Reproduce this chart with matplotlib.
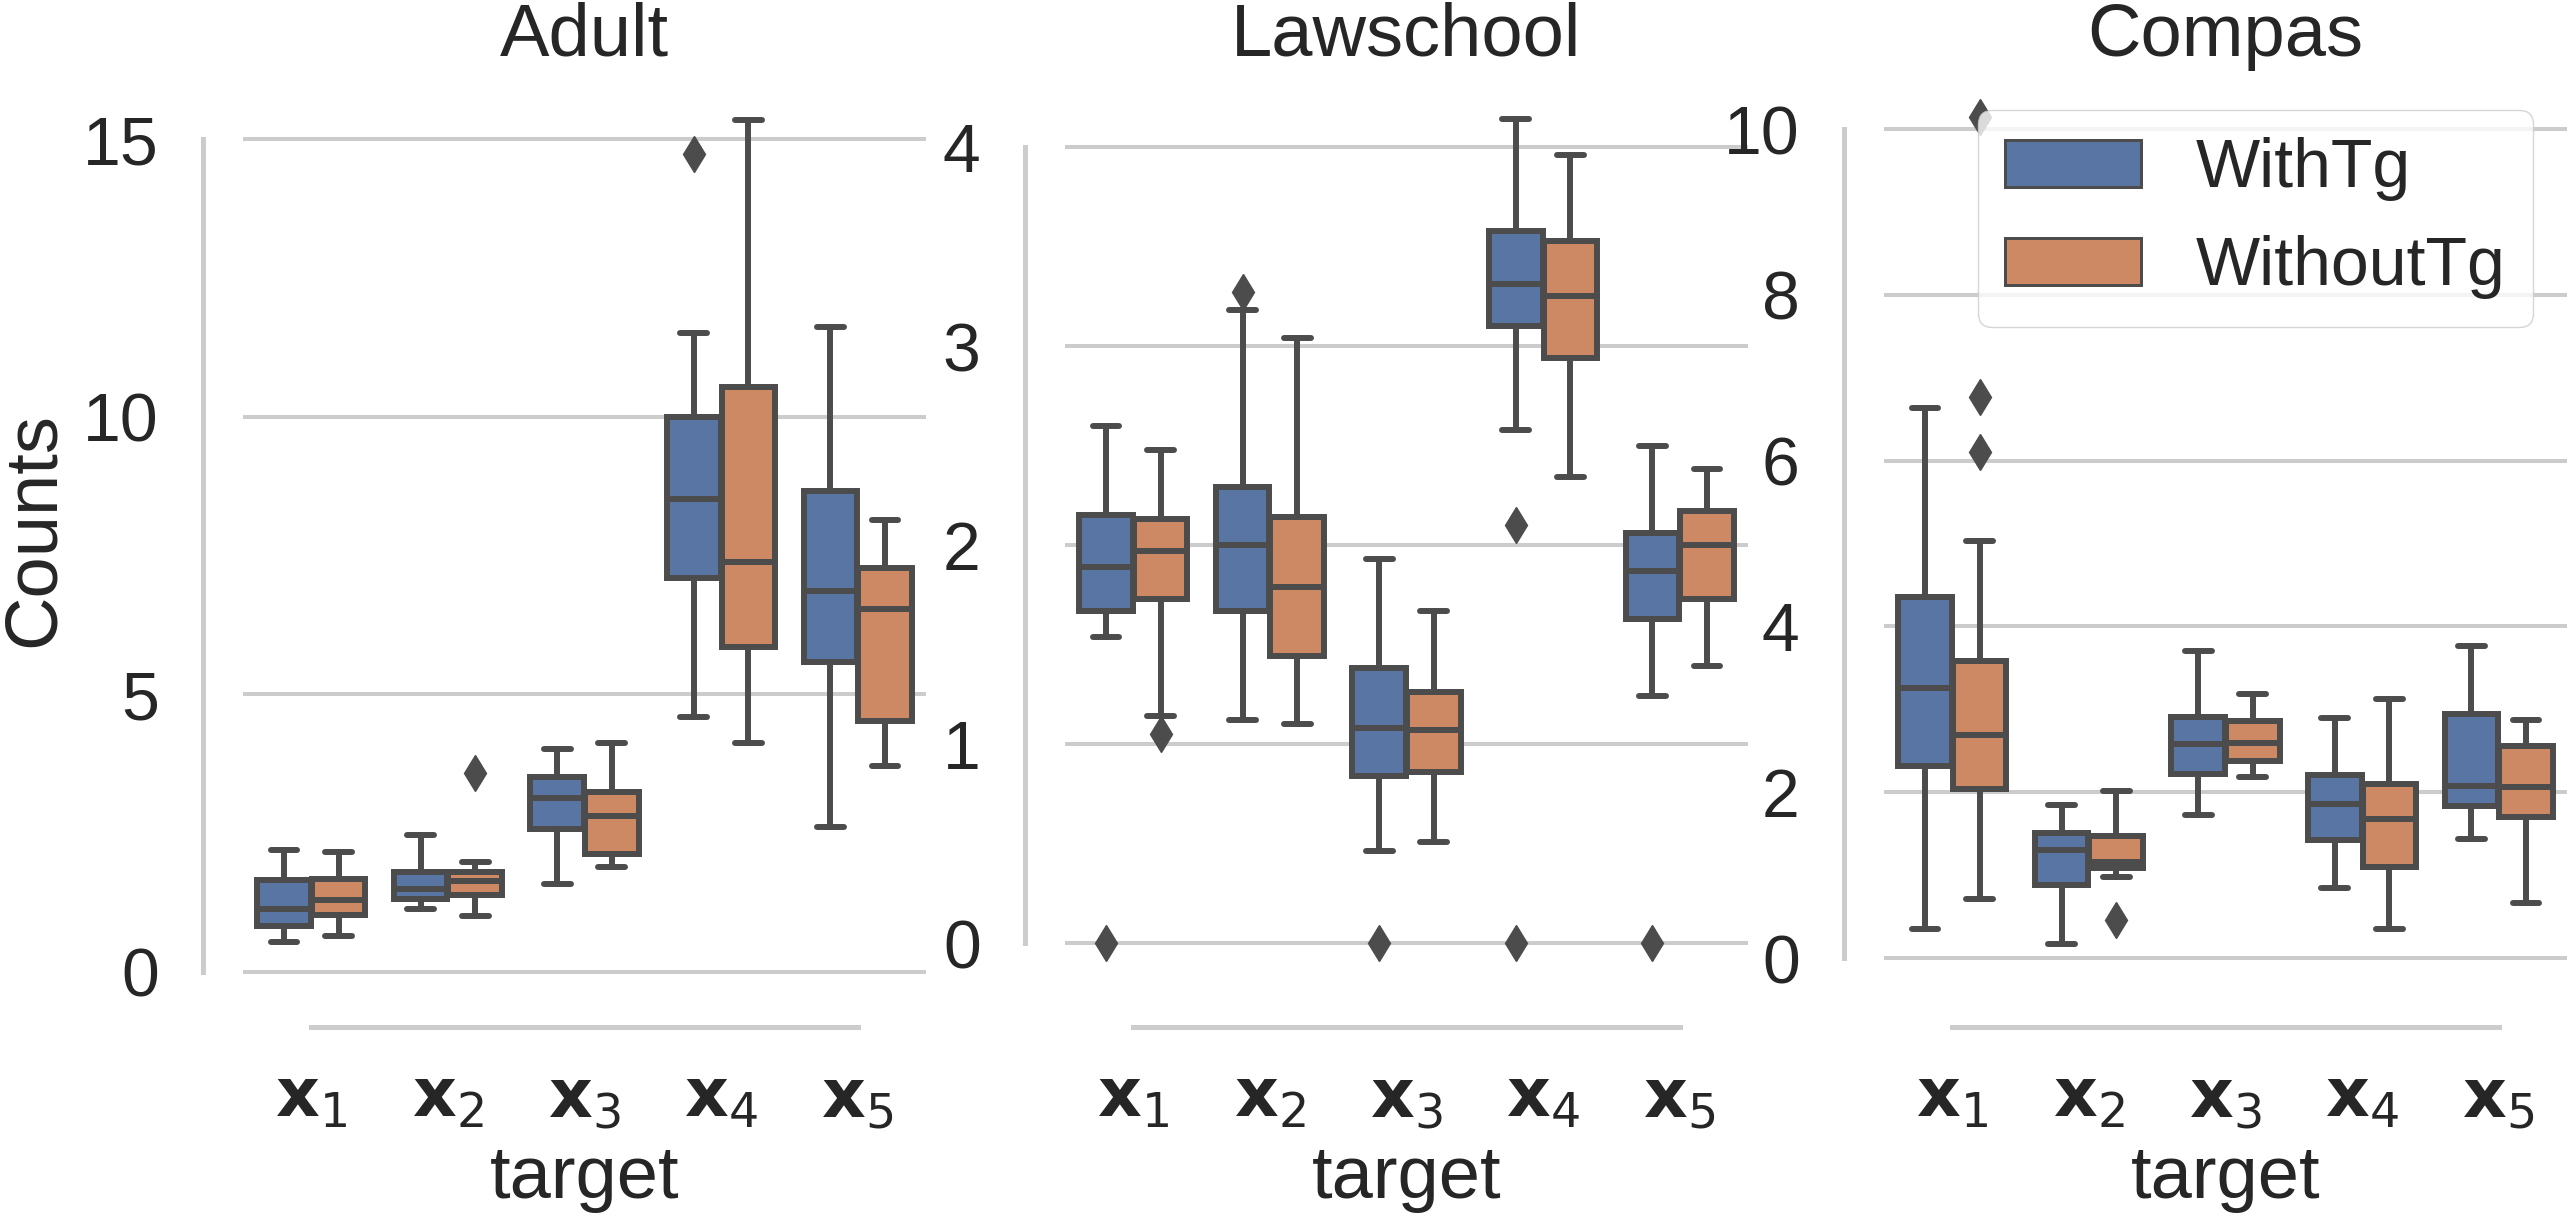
"""
Boxplots of target counts per feature (x1..x5), WithTg vs WithoutTg,
for the Adult, Lawschool and Compas datasets.

Save: out.png
"""

import numpy as np
import matplotlib
matplotlib.use("Agg")
import matplotlib.pyplot as plt
from matplotlib.patches import Patch

plt.rcParams["font.family"] = ["Liberation Sans", "DejaVu Sans"]
plt.rcParams["mathtext.fontset"] = "dejavusans"
plt.rcParams["lines.solid_capstyle"] = "round"

DATASETS = ["Adult", "Lawschool", "Compas"]
TARGETS = [r"$\mathbf{x}_1$", r"$\mathbf{x}_2$", r"$\mathbf{x}_3$",
           r"$\mathbf{x}_4$", r"$\mathbf{x}_5$"]
SERIES = ["WithTg", "WithoutTg"]

# (whislo, q1, median, q3, whishi) per target
adult_with = [
    (0.53, 0.83, 1.14, 1.65, 2.20),
    (1.14, 1.31, 1.50, 1.79, 2.46),
    (1.58, 2.57, 3.14, 3.51, 4.02),
    (4.59, 7.09, 8.52, 10.00, 11.51),
    (2.60, 5.59, 6.86, 8.67, 11.62),
]
adult_without = [
    (0.64, 1.02, 1.30, 1.68, 2.15),
    (1.00, 1.38, 1.64, 1.79, 1.97),
    (1.88, 2.13, 2.81, 3.24, 4.13),
    (4.13, 5.85, 7.39, 10.54, 15.35),
    (3.70, 4.51, 6.53, 7.28, 8.14),
]
adult_with_fliers = [[], [], [], [14.73], []]
adult_without_fliers = [[], [3.59], [], [], []]

law_with = [
    (1.54, 1.67, 1.89, 2.15, 2.60),
    (1.12, 1.67, 2.00, 2.29, 3.18),
    (0.46, 0.84, 1.08, 1.38, 1.93),
    (2.58, 3.10, 3.31, 3.58, 4.14),
    (1.24, 1.63, 1.87, 2.06, 2.50),
]
law_without = [
    (1.14, 1.73, 1.97, 2.13, 2.48),
    (1.10, 1.44, 1.79, 2.14, 3.04),
    (0.51, 0.86, 1.07, 1.26, 1.67),
    (2.34, 2.94, 3.25, 3.53, 3.96),
    (1.39, 1.73, 2.00, 2.17, 2.38),
]
law_with_fliers = [[0.0], [3.27], [0.0], [2.10, 0.0], [0.0]]
law_without_fliers = [[1.05], [], [], [], []]

compas_with = [
    (0.35, 2.32, 3.26, 4.36, 6.63),
    (0.165, 0.885, 1.30, 1.51, 1.85),
    (1.73, 2.22, 2.58, 2.91, 3.70),
    (0.85, 1.43, 1.86, 2.21, 2.89),
    (1.44, 1.83, 2.07, 2.94, 3.77),
]
compas_without = [
    (0.71, 2.04, 2.69, 3.58, 5.03),
    (0.98, 1.085, 1.16, 1.47, 2.02),
    (2.18, 2.38, 2.60, 2.86, 3.19),
    (0.35, 1.10, 1.68, 2.10, 3.13),
    (0.66, 1.70, 2.06, 2.56, 2.87),
]
compas_with_fliers = [[], [], [], [], []]
compas_without_fliers = [[10.15, 6.77, 6.10], [0.46], [], [], []]

YTICKS = {
    "Adult": [0, 5, 10, 15],
    "Lawschool": [0, 1, 2, 3, 4],
    "Compas": [0, 2, 4, 6, 8, 10],
}
YLIMS = {
    "Adult": (-0.22, 16.14),
    "Lawschool": (-0.206, 4.357),
    "Compas": (-0.313, 10.64),
}

COLORS = ["#5875A4", "#CC8963"]
GRAY = "#4C4C4C"
LIGHT = "#CCCCCC"
TEXT = "#262626"

LW = 4.3
TICK_FS = 49
LABEL_FS = 53.4


def _stats(rows, fliers):
    out = []
    for (lo, q1, med, q3, hi), fl in zip(rows, fliers):
        out.append({"whislo": lo, "q1": q1, "med": med, "q3": q3,
                    "whishi": hi, "fliers": np.array(fl)})
    return out


def _draw(ax, name, series_stats):
    n = len(TARGETS)
    width = 0.8 / len(series_stats)
    offsets = np.array([-width / 2, width / 2])
    for stats, off, color in zip(series_stats, offsets, COLORS):
        ax.bxp(stats, positions=np.arange(n) + off, widths=width * 0.98,
               patch_artist=True, showfliers=True,
               boxprops=dict(facecolor=color, edgecolor=GRAY, linewidth=LW),
               medianprops=dict(color=GRAY, linewidth=LW),
               whiskerprops=dict(color=GRAY, linewidth=LW),
               capprops=dict(color=GRAY, linewidth=LW),
               flierprops=dict(marker="d", markerfacecolor=GRAY,
                               markeredgecolor=GRAY, markersize=18,
                               linestyle="none"))

    ax.set_xlim(-0.5, n - 0.5)
    ax.set_ylim(*YLIMS[name])
    ax.set_xticks(range(n))
    ax.set_xticklabels(TARGETS)
    ax.set_yticks(YTICKS[name])
    ax.tick_params(axis="y", length=0, pad=31.7, labelsize=TICK_FS,
                   colors=TEXT)
    ax.tick_params(axis="x", length=0, pad=29, labelsize=TICK_FS,
                   colors=TEXT)

    ax.set_axisbelow(True)
    ax.yaxis.grid(True, color=LIGHT, linewidth=2.9)
    ax.xaxis.grid(False)

    for side in ["top", "right"]:
        ax.spines[side].set_visible(False)
    ax.spines["left"].set_position(("outward", 29))
    ax.spines["bottom"].set_position(("outward", 31))
    ax.spines["left"].set_bounds(YTICKS[name][0], YTICKS[name][-1])
    ax.spines["bottom"].set_bounds(0, n - 1)
    for side in ["left", "bottom"]:
        ax.spines[side].set_color(LIGHT)
        ax.spines[side].set_linewidth(3.6)

    ax.set_title(name, fontsize=LABEL_FS, color=TEXT, pad=14.4)
    ax.set_xlabel("target", fontsize=LABEL_FS, color=TEXT, labelpad=9)


fig = plt.figure(figsize=(25.68, 12.16), dpi=100)
lefts = [243 / 2568, 1065 / 2568, 1884 / 2568]
bottom, width, height = 0.19079, 683 / 2568, 0.74671
axes = [fig.add_axes([l, bottom, width, height]) for l in lefts]

all_stats = {
    "Adult": [_stats(adult_with, adult_with_fliers),
              _stats(adult_without, adult_without_fliers)],
    "Lawschool": [_stats(law_with, law_with_fliers),
                  _stats(law_without, law_without_fliers)],
    "Compas": [_stats(compas_with, compas_with_fliers),
               _stats(compas_without, compas_without_fliers)],
}

for ax, name in zip(axes, DATASETS):
    _draw(ax, name, all_stats[name])

axes[0].set_ylabel("Counts", fontsize=LABEL_FS, color=TEXT, labelpad=10)

handles = [Patch(facecolor=c, edgecolor=GRAY, linewidth=LW / 2, label=s)
           for c, s in zip(COLORS, SERIES)]
leg = axes[2].legend(handles=handles, loc="upper right", fontsize=TICK_FS,
                     framealpha=0.8, edgecolor=LIGHT, fancybox=True)
for t in leg.get_texts():
    t.set_color(TEXT)

fig.savefig("out.png", dpi=100)
